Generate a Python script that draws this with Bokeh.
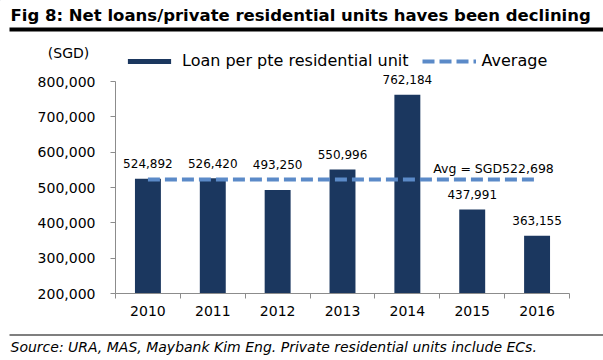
from bokeh.plotting import figure
from bokeh.models import (Range1d, FixedTicker, NumeralTickFormatter, Label, LabelSet,
                          ColumnDataSource, Legend, LegendItem)
from bokeh.layouts import column
from bokeh.core.properties import value
from bokeh.embed import file_html
from bokeh.resources import INLINE

# ---- data ----
years = ["2010", "2011", "2012", "2013", "2014", "2015", "2016"]
loan_per_unit = [524892, 526420, 493250, 550996, 762184, 437991, 363155]
average = 522698
y_ticks = [200000, 300000, 400000, 500000, 600000, 700000, 800000]

title_text = "Fig 8: Net loans/private residential units haves been declining"
unit_text = "(SGD)"
series_name = "Loan per pte residential unit"
avg_name = "Average"
source_text = "Source: URA, MAS, Maybank Kim Eng. Private residential units include ECs."

FONT = "DejaVu Sans"
NAVY = "#1B375F"
BLUE = "#5B8AC8"
DASH = "12 5"

W = 603
H_HEAD, H_MAIN, H_FOOT = 70, 256, 34


def blank_fig(h):
    f = figure(width=W, height=h, output_backend="svg", toolbar_location=None,
               x_range=Range1d(0, W), y_range=Range1d(h, 0),
               x_axis_type=None, y_axis_type=None,
               min_border=0, min_border_left=0, min_border_right=0,
               min_border_top=0, min_border_bottom=0)
    f.outline_line_color = None
    f.grid.visible = False
    f.background_fill_color = "white"
    f.border_fill_color = "white"
    return f


# ---- header: title, rule, unit, legend ----
head = blank_fig(H_HEAD)
head.text(x=[10], y=[15], text=[title_text], text_font=value(FONT),
          text_font_style="bold", text_font_size="16.5px", text_baseline="middle",
          text_align="left", text_color="black")
head.quad(left=[9], right=[W], top=[27], bottom=[31], fill_color="black", line_color=None)
head.text(x=[68], y=[52], text=[unit_text], text_font=value(FONT),
          text_font_size="14px", text_baseline="middle", text_align="center",
          text_color="black")
# off-canvas stand-ins that only carry the legend styling
leg_bar = head.vbar(x=[-50], top=[-50], bottom=[-60], width=1,
                    fill_color=NAVY, line_color=None)
leg_line = head.line(x=[-60, -50], y=[-50, -50], line_color=BLUE, line_width=4,
                     line_dash=DASH)
legend = Legend(items=[LegendItem(label=series_name, renderers=[leg_bar]),
                       LegendItem(label=avg_name, renderers=[leg_line])],
                orientation="horizontal", location=(122, 0),
                glyph_width=54, glyph_height=6, label_standoff=6, spacing=13,
                padding=2, margin=0, border_line_color=None,
                background_fill_alpha=0,
                label_text_font=FONT, label_text_font_size="16px",
                label_text_color="black")
head.add_layout(legend)

# ---- main chart ----
n = len(years)
xs = [i + 0.5 for i in range(n)]
span = y_ticks[-1] - y_ticks[0]
# a value label that would sit on the average line is lifted above it
label_anchor = [average if (average - 0.1 * span) < v < average else v
                for v in loan_per_unit]
src = ColumnDataSource(dict(x=xs, top=loan_per_unit, laby=label_anchor,
                            lab=[f"{v:,}" for v in loan_per_unit],
                            avg=[average] * n))

y_top = y_ticks[-1] + span * 11 / 212   # a little head-room for the value labels

p = figure(width=W, height=H_MAIN, output_backend="svg", toolbar_location=None,
           x_range=Range1d(0, n), y_range=Range1d(y_ticks[0], y_top),
           min_border_left=115, min_border_right=34, min_border_top=0,
           min_border_bottom=33)
p.outline_line_color = None
p.xgrid.visible = False
p.ygrid.visible = False
p.background_fill_color = "white"
p.border_fill_color = "white"

p.vbar(x="x", top="top", bottom=y_ticks[0], width=0.4, source=src,
       fill_color=NAVY, line_color=None)
p.line(x="x", y="avg", source=src, line_color=BLUE, line_width=4, line_dash=DASH)

p.add_layout(LabelSet(x="x", y="laby", text="lab", source=src, y_offset=15,
                      text_align="center", text_baseline="middle",
                      text_font=value(FONT), text_font_size="12px",
                      text_color="black"))
p.add_layout(Label(x=4.9, y=average, y_offset=11, text=f"Avg = SGD{average:,}",
                   text_font=FONT, text_font_size="12.5px", text_color="black",
                   text_baseline="middle", text_align="left"))

xa = p.xaxis[0]
xa.ticker = FixedTicker(ticks=xs, minor_ticks=list(range(n + 1)))
xa.major_label_overrides = {x: y for x, y in zip(xs, years)}
xa.major_tick_out = 0
xa.major_tick_in = 0
xa.minor_tick_out = 5
xa.minor_tick_in = 0
xa.major_label_standoff = 7

ya = p.yaxis[0]
ya.ticker = FixedTicker(ticks=y_ticks, minor_ticks=[])
ya.formatter = NumeralTickFormatter(format="0,0")
ya.bounds = (y_ticks[0], y_ticks[-1])
ya.major_tick_out = 5
ya.major_tick_in = 0
ya.minor_tick_out = 0
ya.minor_tick_in = 0
ya.major_label_standoff = 15

for ax in (xa, ya):
    ax.axis_line_color = "#8C8C8C"
    ax.major_tick_line_color = "#8C8C8C"
    ax.minor_tick_line_color = "#8C8C8C"
    ax.major_label_text_font = FONT
    ax.major_label_text_font_size = "14px"
    ax.major_label_text_color = "black"

# ---- footer: rule and source ----
foot = blank_fig(H_FOOT)
foot.quad(left=[9], right=[W], top=[8], bottom=[9], fill_color="black", line_color=None)
foot.text(x=[10], y=[20], text=[source_text], text_font=value(FONT),
          text_font_style="italic", text_font_size="14px", text_baseline="middle",
          text_align="left", text_color="black")

layout = column(column(head), column(p), column(foot), spacing=0)
open("out.html", "w").write(file_html(layout, INLINE))
